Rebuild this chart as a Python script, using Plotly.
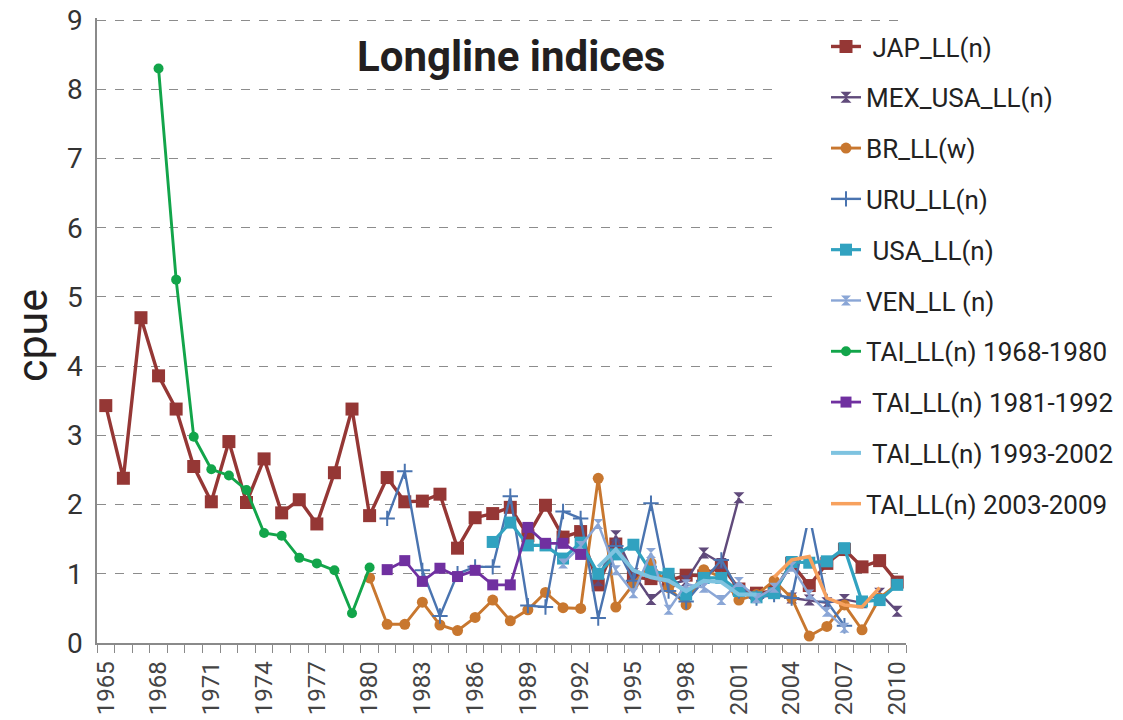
import plotly.graph_objects as go

# ---------------- data ----------------
jap_years = list(range(1965, 2011))
jap_vals = [3.43, 2.38, 4.70, 3.86, 3.38, 2.55, 2.04, 2.91, 2.03, 2.66,
            1.88, 2.07, 1.72, 2.46, 3.38, 1.84, 2.39, 2.04, 2.05, 2.15,
            1.37, 1.81, 1.87, 1.96, 1.55, 1.99, 1.53, 1.61, 0.84, 1.43,
            0.95, 0.93, 0.90, 0.98, 0.97, 1.12, 0.78, 0.72, 0.75, 1.15,
            0.83, 1.15, 1.35, 1.10, 1.19, 0.88]

mex_years = list(range(1993, 2011))
mex_vals = [0.90, 1.55, 1.00, 0.63, 0.85, 0.90, 1.30, 1.15, 2.10, None,
            None, 0.65, 0.62, 0.58, 0.63, 0.58, 0.72, 0.46]

br_years = list(range(1980, 2011))
br_vals = [0.94, 0.27, 0.27, 0.59, 0.26, 0.18, 0.37, 0.62, 0.32, 0.48,
           0.73, 0.51, 0.50, 2.38, 0.52, 0.85, 1.16, 0.80, 0.55, 1.06,
           0.95, 0.62, 0.70, 0.90, 0.65, 0.10, 0.24, 0.55, 0.19, 0.65,
           0.85]

uru_years = list(range(1981, 2008))
uru_vals = [1.80, 2.48, 1.05, 0.39, 1.00, 1.10, 1.10, 2.12, 0.54, 0.52,
            1.90, 1.80, 0.36, 1.40, 0.90, 2.02, 0.75, 0.60, 0.90, 1.20,
            0.75, 0.65, 0.70, 0.65, 1.85, 0.60, 0.25]

usa_years = list(range(1987, 2011))
usa_vals = [1.46, 1.74, 1.41, 1.41, 1.22, 1.45, 1.00, 1.28, 1.42, 1.03,
            1.00, 0.70, 0.94, 0.94, 0.75, 0.66, 0.72, 1.17, 1.16, 1.18,
            1.37, 0.60, 0.62, 0.84]

ven_years = list(range(1991, 2008))
ven_vals = [1.15, 1.40, 1.72, 1.05, 0.72, 1.30, 0.48, 0.85, 0.80, 0.62,
            0.88, 0.65, 0.80, 1.10, 0.70, 0.45, 0.22]

tai68_years = list(range(1968, 1981))
tai68_vals = [8.30, 5.25, 2.98, 2.51, 2.42, 2.21, 1.59, 1.55, 1.23, 1.15,
              1.05, 0.43, 1.09]

tai81_years = list(range(1981, 1993))
tai81_vals = [1.06, 1.19, 0.89, 1.08, 0.96, 1.05, 0.84, 0.84, 1.67, 1.44,
              1.44, 1.28]

tai93_years = list(range(1993, 2003))
tai93_vals = [1.10, 1.35, 1.05, 0.95, 0.90, 0.75, 0.90, 0.88, 0.70, 0.70]

tai03_years = list(range(2003, 2010))
tai03_vals = [0.95, 1.20, 1.25, 0.65, 0.55, 0.52, 0.80]

tick_years = list(range(1965, 2011, 3))
tick_labels = [str(y) for y in tick_years]

# ---------------- figure ----------------
series = [
    (" JAP_LL(n)", jap_years, jap_vals, "#953735", 3.4, "square", 13),
    ("MEX_USA_LL(n)", mex_years, mex_vals, "#604a7b", 2.4, "hourglass", 11),
    ("BR_LL(w)", br_years, br_vals, "#c8772f", 2.9, "circle", 11),
    ("URU_LL(n)", uru_years, uru_vals, "#4a74b0", 2.4, "cross-thin", 11),
    (" USA_LL(n)", usa_years, usa_vals, "#31a2c0", 3.2, "square", 12),
    ("VEN_LL (n)", ven_years, ven_vals, "#8aa6d6", 2.4, "hourglass", 10),
    ("TAI_LL(n) 1968-1980", tai68_years, tai68_vals, "#12a54a", 2.9, "circle", 10),
    (" TAI_LL(n) 1981-1992", tai81_years, tai81_vals, "#7030a0", 2.8, "square", 11),
    (" TAI_LL(n) 1993-2002", tai93_years, tai93_vals, "#7ec3e0", 4, None, 0),
    ("TAI_LL(n) 2003-2009", tai03_years, tai03_vals, "#f7a15e", 3.5, None, 0),
]

fig = go.Figure()
for i, (name, xs, ys, col, lw, sym, ms) in enumerate(series):
    if sym is None:
        mode = "lines"
        marker = None
    else:
        mode = "lines+markers"
        mline = dict(width=0)
        if sym == "cross-thin":
            mline = dict(width=2, color=col)
        marker = dict(symbol=sym, size=ms, color=col, line=mline)
    fig.add_trace(go.Scatter(
        x=xs, y=ys, name=name, mode=mode,
        line=dict(color=col, width=lw),
        marker=marker,
        legendgroup="g%d" % i,
        connectgaps=False,
    ))

# page body has an 8px margin, so the figure is drawn offset by (8, 8)
OFF = 8
Y_MAX = 9.03
win_l, win_r, win_b = 97, 906, 643
win_t = 20 - (Y_MAX - 9) * (643 - 20) / 9
W, H = 1123, 720 - OFF
plot_l, plot_r = win_l - OFF, win_r - OFF
plot_t, plot_b = win_t - OFF, win_b - OFF

def px_x(px):
    return (px - win_l) / (win_r - win_l)

def px_y(py):
    return (win_b - py) / (win_b - win_t)

fig.update_layout(
    width=W, height=H,
    margin=dict(l=plot_l, r=W - plot_r, t=plot_t, b=H - plot_b),
    paper_bgcolor="white", plot_bgcolor="white",
    showlegend=True,
    legend=dict(
        x=px_x(778), y=px_y(23), xanchor="left", yanchor="top",
        bgcolor="white", borderwidth=0,
        font=dict(family="Roboto", size=26, color="#222222"),
        traceorder="grouped", tracegroupgap=14,
        indentation=48, itemwidth=30, maxheight=700,
    ),
    xaxis=dict(
        range=[1964.5, 2010.5], automargin=False,
        tickmode="array", tickvals=tick_years, ticktext=tick_labels,
        tickangle=-90, ticks="",
        tickfont=dict(family="Roboto", size=24, color="#444444"),
        ticklabelstandoff=7,
        showline=True, linecolor="#8a8a8a", linewidth=1.5,
        showgrid=False, zeroline=False,
        minor=dict(tick0=1964.5, dtick=1, ticks="outside", ticklen=8,
                   tickcolor="#8a8a8a", tickwidth=1.3, showgrid=False),
    ),
    yaxis=dict(
        range=[0, Y_MAX], dtick=1, tick0=0, automargin=False,
        showgrid=True, griddash="dash", gridcolor="#8c8c8c", gridwidth=1.3,
        showline=True, linecolor="#8a8a8a", linewidth=1.5,
        zeroline=False, ticks="",
        tickfont=dict(family="Roboto", size=28, color="#333333"),
        ticklabelstandoff=7, ticklabeloverflow="allow",
    ),
    annotations=[
        dict(text="<b>Longline indices</b>", xref="paper", yref="paper",
             x=px_x(511), y=px_y(56), xanchor="center", yanchor="middle",
             showarrow=False,
             font=dict(family="Roboto", size=42, color="#231f20")),
        dict(text="cpue", xref="paper", yref="paper",
             x=px_x(32), y=px_y(336), xanchor="center", yanchor="middle",
             textangle=-90, showarrow=False,
             font=dict(family="Roboto", size=43, color="#231f20")),
    ],
)

fig.write_html("out.html")
